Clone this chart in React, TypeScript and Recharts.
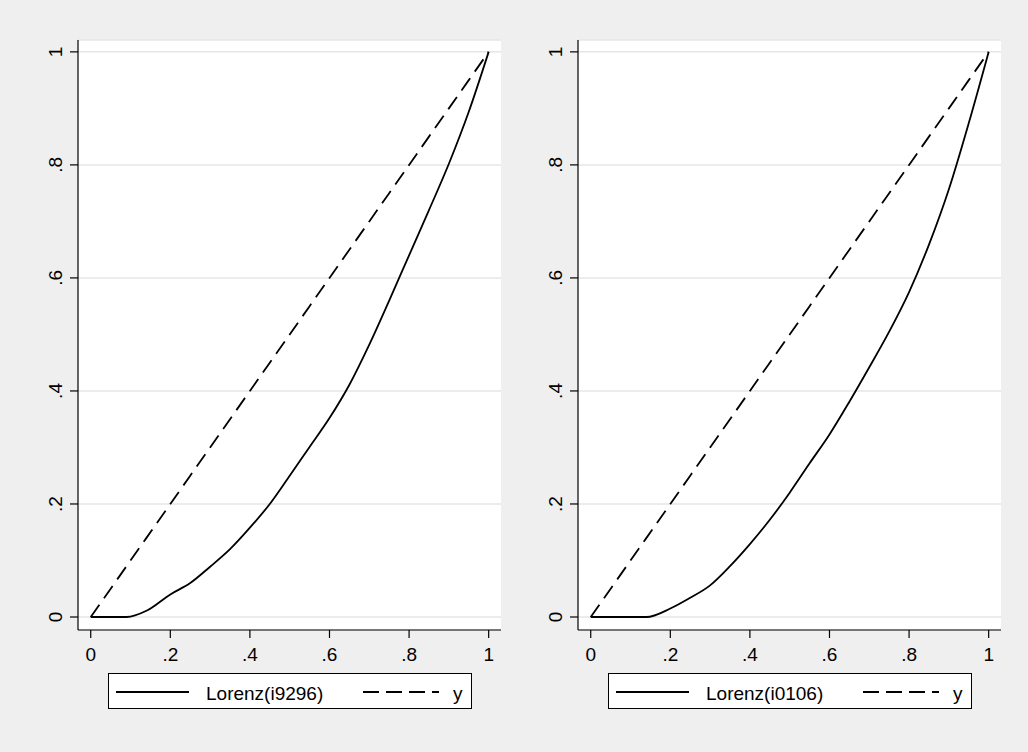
import React from 'react';
import { LineChart, Line, XAxis, YAxis, CartesianGrid, Legend } from 'recharts';

// cumulative population share
const xShares = [0, 0.09, 0.14, 0.2, 0.25, 0.3, 0.35, 0.4, 0.45, 0.5, 0.55, 0.6, 0.65, 0.7, 0.75, 0.8, 0.85, 0.9, 0.95, 1];
// Lorenz curve, i9296 (left panel)
const lorenzI9296 = [0, 0, 0.011, 0.04, 0.06, 0.089, 0.12, 0.158, 0.2, 0.25, 0.301, 0.352, 0.411, 0.482, 0.56, 0.64, 0.72, 0.802, 0.894, 1];
// Lorenz curve, i0106 (right panel)
const lorenzI0106 = [0, 0, 0, 0.015, 0.034, 0.056, 0.09, 0.129, 0.172, 0.22, 0.272, 0.323, 0.381, 0.442, 0.505, 0.575, 0.659, 0.757, 0.874, 1];
// line of equality "y"
const equalityLine = [0, 0.09, 0.14, 0.2, 0.25, 0.3, 0.35, 0.4, 0.45, 0.5, 0.55, 0.6, 0.65, 0.7, 0.75, 0.8, 0.85, 0.9, 0.95, 1];

const axisTicks = [0, 0.2, 0.4, 0.6, 0.8, 1];
const seriesNames = ['Lorenz(i9296)', 'Lorenz(i0106)'];
const equalityName = 'y';

const FONT = '"Liberation Sans", Arial, Helvetica, sans-serif';
const TICK_FS = 19;

const fmt = (v: number) => (v === 0 ? '0' : v === 1 ? '1' : '.' + Math.round(v * 10));

const XTick = (props: any) => {
  const { x, y, payload } = props;
  return (
    <text x={x} y={y + 21} textAnchor="middle" fontSize={TICK_FS} fill="#000" fontFamily={FONT}>
      {fmt(payload.value)}
    </text>
  );
};

const YTick = (props: any) => {
  const { x, y, payload } = props;
  const bx = x - 6;
  return (
    <text x={bx} y={y} textAnchor="middle" fontSize={TICK_FS} fill="#000" fontFamily={FONT} transform={`rotate(-90, ${bx}, ${y})`}>
      {fmt(payload.value)}
    </text>
  );
};

const makeLegend = (name: string) => () => (
  <div
    style={{
      width: 364,
      height: 36,
      boxSizing: 'border-box',
      border: '1px solid #000',
      background: '#fff',
      position: 'relative',
    }}
  >
    <svg width={362} height={34} style={{ position: 'absolute', left: 0, top: 0 }}>
      <line x1={7} x2={80} y1={18} y2={18} stroke="#000" strokeWidth={1.8} />
      <text x={97} y={26} fontSize={19} fontFamily={FONT} fill="#000">{name}</text>
      <line x1={254} x2={330} y1={18} y2={18} stroke="#000" strokeWidth={1.8} strokeDasharray="16 7" />
      <text x={344} y={26} fontSize={19} fontFamily={FONT} fill="#000">{equalityName}</text>
    </svg>
  </div>
);

const Panel = ({ values, name }: { values: number[]; name: string }) => {
  const data = xShares.map((x, i) => ({ x, lorenz: values[i], y: equalityLine[i] }));
  return (
    <LineChart width={505} height={752} data={data} margin={{ top: 40, right: 4, bottom: 82, left: 0 }}>
      <CartesianGrid fill="#ffffff" stroke="#e6e6e6" strokeWidth={1.5} vertical={false} />
      <XAxis
        dataKey="x"
        type="number"
        domain={[-0.032, 1.031]}
        ticks={axisTicks}
        allowDataOverflow
        height={40}
        tickSize={8}
        tickMargin={2}
        axisLine={{ stroke: '#000', strokeWidth: 1.2 }}
        tickLine={{ stroke: '#000', strokeWidth: 1.2 }}
        tick={<XTick />}
        interval={0}
      />
      <YAxis
        type="number"
        domain={[-0.023, 1.021]}
        ticks={axisTicks}
        allowDataOverflow
        width={78}
        tickSize={8}
        tickMargin={2}
        axisLine={{ stroke: '#000', strokeWidth: 1.2 }}
        tickLine={{ stroke: '#000', strokeWidth: 1.2 }}
        tick={<YTick />}
        interval={0}
      />
      <Legend
        layout="horizontal"
        verticalAlign="middle"
        align="center"
        wrapperStyle={{ left: 108, top: 673, width: 364, height: 36 }}
        content={makeLegend(name)}
      />
      <Line
        dataKey="lorenz"
        name={name}
        type="monotone"
        stroke="#000"
        strokeWidth={1.8}
        dot={false}
        activeDot={false}
        isAnimationActive={false}
      />
      <Line
        dataKey="y"
        name={equalityName}
        type="linear"
        stroke="#000"
        strokeWidth={1.8}
        strokeDasharray="15 8"
        dot={false}
        activeDot={false}
        isAnimationActive={false}
      />
    </LineChart>
  );
};

export default function App() {
  return (
    <div
      style={{
        position: 'absolute',
        left: 0,
        top: 0,
        width: 1028,
        height: 752,
        background: '#efefef',
        overflow: 'hidden',
        fontFamily: FONT,
      }}
    >
      <div style={{ position: 'absolute', left: 0, top: 0 }}>
        <Panel values={lorenzI9296} name={seriesNames[0]} />
      </div>
      <div style={{ position: 'absolute', left: 500, top: 0 }}>
        <Panel values={lorenzI0106} name={seriesNames[1]} />
      </div>
    </div>
  );
}
